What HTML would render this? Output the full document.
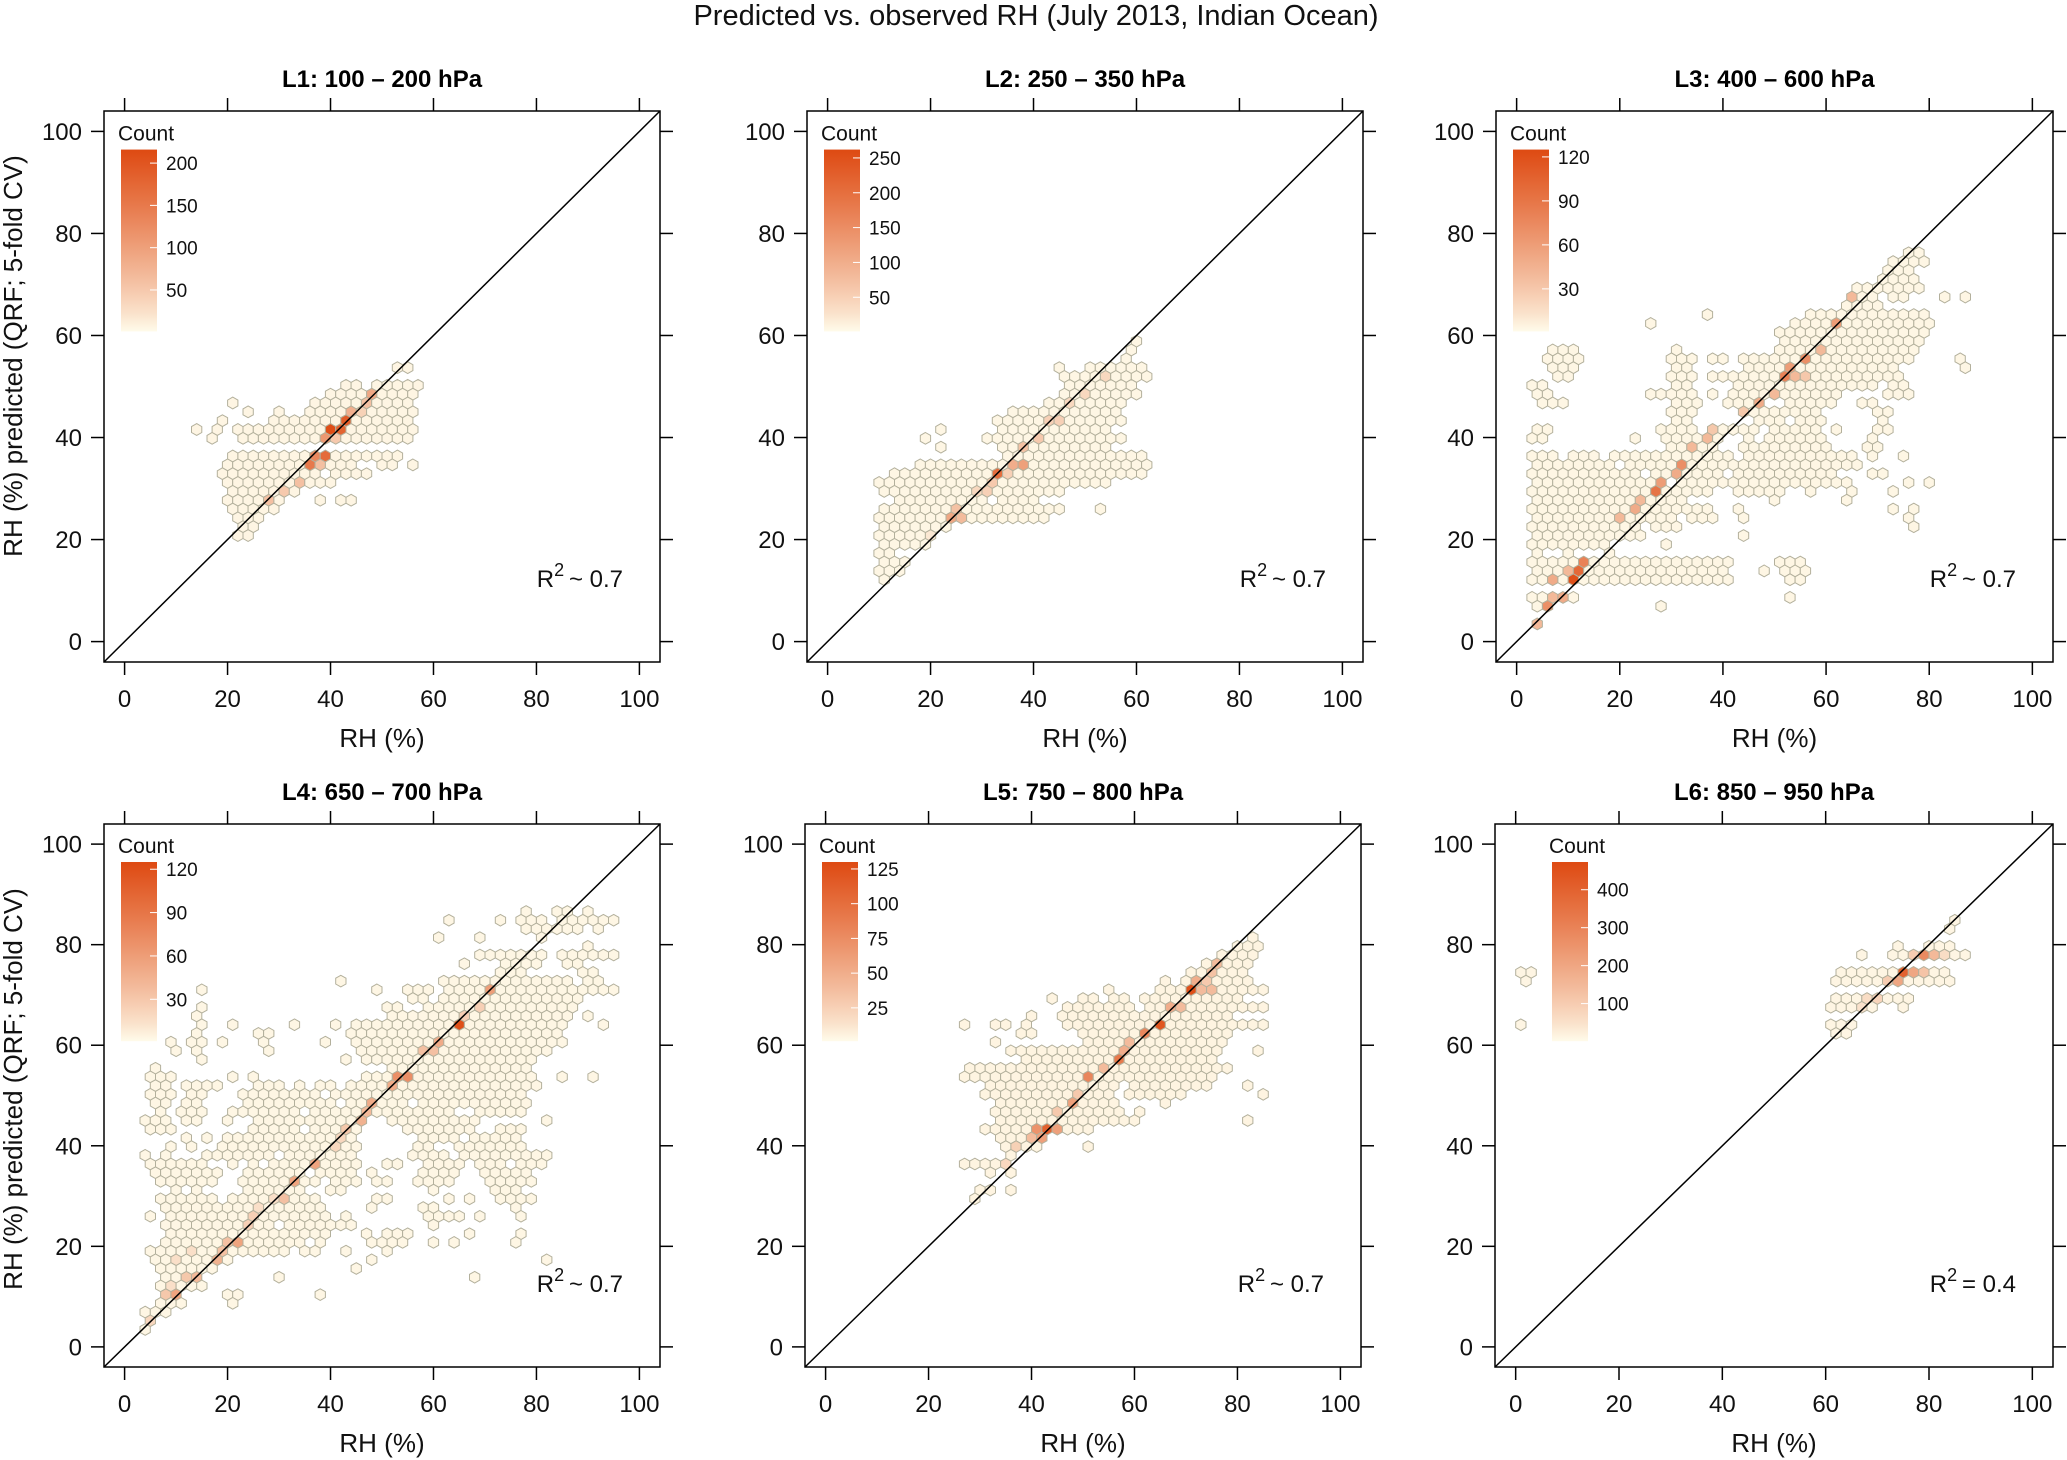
<!DOCTYPE html>
<html><head><meta charset="utf-8">
<style>
html,body{margin:0;padding:0;background:#fff;}
svg{display:block;font-family:"Liberation Sans",Arial,sans-serif;}
</style></head>
<body>
<svg id="chart" width="2067" height="1460" viewBox="0 0 2067 1460" xmlns="http://www.w3.org/2000/svg">
<text x="1036" y="25" font-size="29" text-anchor="middle" fill="#111">Predicted vs. observed RH (July 2013, Indian Ocean)</text>
</svg>
<script>
// ---- data ----
const panelTitles = ["L1: 100 \u2013 200 hPa","L2: 250 \u2013 350 hPa","L3: 400 \u2013 600 hPa","L4: 650 \u2013 700 hPa","L5: 750 \u2013 800 hPa","L6: 850 \u2013 950 hPa"];
const r2Labels = ["~ 0.7","~ 0.7","~ 0.7","~ 0.7","~ 0.7","= 0.4"];
const axisTicks = [0,20,40,60,80,100];
const legendMax = [216,262,125,125,130,473];
const legendTicks = [[50,100,150,200],[50,100,150,200,250],[30,60,90,120],[30,60,90,120],[25,50,75,100,125],[100,200,300,400]];
const baseCounts = [5,5,3,3,4,10];

const L1_rows = [[53,53,55],[51,49,53,57,58],[49.5,42,45,48,50,53,55],[48,40,56],[46,20,21,37,56],[44.5,24,24,30,30,36,56],[42.7,19,19,28,56],[40.9,14,14,18,18,22,56],[39,17,17,23,56],[37.2,18,18,21,54],[35.5,20,44,50,52,55,57],[33.7,18,38,40,48],[32,20,36,38,40],[30.2,20,33,38,38,42,42],[28.5,20,31,33,33,37,39,42,44],[26.7,20,30,34,34,40,40],[25,22,26],[23,22,26],[21.5,21,25],[19.7,20,20]];
const L1_hot = [[40,41,210],[42,41,180],[43,42.7,190],[39,39,110],[38,37.2,170],[36,37.2,130],[35,35.5,150],[44,44.5,80],[46,46,80],[48,48,90],[47,46,60],[33,32,60],[30,30.2,50],[28,28.5,60],[37,35.5,60],[45,44.5,40],[41,39,50]];

const L2_rows = [[59,60.7,60.7],[57.5,58,60],[55.6,57,59],[54,45,45,50,61],[52.3,46,48,51,51,49,62],[50.6,47,47,48,60],[49,45,47,41,41,47,60],[47.2,47,47,43,45,47,58],[45.6,36,57],[43.9,33,58],[42,22,22,33,55],[40.4,19,19,31,58],[38.6,22,22,33,54],[37,24,24,34,61],[35.3,17,62],[33.7,12,62],[32,10,55],[30.2,11,14,15,33,35,45],[28.5,13,31,33,40,53,53],[26.8,10,46,53,53],[25.1,11,43,57,57,63,63],[23.4,10,29,33,33,40,42],[21.7,10,24],[20,10,20],[18.3,11,20],[16.6,10,12],[15,11,15],[13.2,10,14],[11.4,11,11]];
const L2_hot = [[24.7,25.1,250],[33.8,33.7,200],[32.8,32,240],[37.7,35.3,120],[35.8,35.3,100],[23.8,23.4,110],[26.7,25.1,80],[25.7,26.8,70],[38.6,38.6,70],[40.4,40.4,60],[43,43.9,50],[45,43.9,50],[47,47.2,40],[49,49,40],[53,52.3,40],[30.9,30.2,50],[29.6,30.2,40],[19,20,20],[31,32,60],[35,33.7,50]];

const L3_rows = [[75.4,75,77.5],[73.7,72.3,78.5],[72,71,77],[70.2,70,78],[68.5,65.5,78],[66.8,65.5,69.5,73,75,83,83,87,87],[65.1,64.5,70],[63.3,37,37,56,80],[61.6,26,26,54,80],[59.9,51,80],[58.1,52,78,9,9],[56.5,10.7,10.7,31,31,50,78,7,12],[54.7,6.5,12,29.5,34,37,40,43.6,76,86,86],[53,6,12,31,34,44,74,87.4,87.4],[51.2,8,10,30,34,37,42,44,74],[49.5,3.8,6,30,34,42,70,72,76],[47.8,3.8,6,26,28,30,35,38,38,42,62,65,65,69,69,72,76,81,81],[46,5,10,30,36,40,48,52,62,66,70],[44.3,30,34,43,58,70,72,75,75],[42.6,30,34,47,51,55,59,70,72],[40.8,3.8,6,28,34,35,35,39,47,49,58,62,62,70,72],[39.2,3.8,6,23,23,29,40,44,46,48,60,68,70],[37.4,5,5,9,9,17,17,29,38,44,60,68,70],[35.6,3.8,8,10,15,18,42,44,66,69,69,75,75],[33.9,3,14,15,18,21,66,69,69,79,79],[32.2,3,24,26,40,42,62,69,72,80,80],[30.4,3,29,31,42,44,64,71,71,76,76,80,80],[28.7,3,38,42,45,46,51,57,57,65,65,73,73],[27,3,33,45,45,50,50,64,65],[25.3,3,38,42,44,50,50,73,73,76,77],[23.5,3,30,33,38,44,44,71,71,76,76],[21.7,3,24,27,31,44,44,76,77],[20.1,3,8,10,24,44,44,67,67],[18.3,3,18,22,22,29,29,48,48],[16.5,3,5,10,10,18,18,21,21],[14.8,3,19,21,41,48,48,51,55],[13,3,41,47,49,51,56],[11.3,3,41,53,55],[9.5,3,12,53,53],[7.7,3,7,28,28],[6.1,4,6],[4.3,4,4]];
const L3_hot = [[4.3,4.3,40],[5.3,7.7,70],[10.8,11.3,120],[12,13,100],[13,14.8,80],[7,11.3,50],[8,9.5,50],[9,13,40],[6,9.5,40],[20,23.5,40],[22,25.3,50],[26,28.7,90],[28,30.4,60],[30,32.2,50],[32.6,33.9,70],[34,37.4,40],[36,39.2,40],[38,40.8,30],[44,44.3,30],[47,46,50],[49,47.8,40],[52,51.2,80],[53,53,60],[56.5,54.7,70],[58,56.5,40],[61,61.6,60],[65,66.8,40],[54,52,40],[24,27,40],[56,52,30]];

const L4_rows = [[87.4,77.5,77.5,83.5,85.5,89.5,89.5,93,93],[85.6,63,63,73,73,77.5,82,84.5,87,88.5,94.6],[83.8,78,88,91.5,91.5],[82,60.5,60.5,68,70,81.6,81.6],[80.4,89.5,89.5,93,93],[78.6,68,82,84,95],[76.9,65.6,65.6,73.5,80,85.7,88.5,93,93],[75.1,72,78,89.5,92],[73.4,42.8,42.8,61.6,86.3,89,91.5],[71.6,15.3,15.3,49,49,55,59,63,87.6,89.5,94.6],[69.9,56,59,61,77.8,80.8,88.5],[68.2,15.3,15.3,50.5,53.7,59,87.5],[66.5,14.3,14.3,51,85.7,89.5,89.5],[64.6,14.9,14.9,20.6,20.6,32.6,32.6,40.8,40.8,44.9,85,92.8,92.8],[63,13.9,13.9,25.8,27.8,44.9,83.8],[61.2,9.8,9.8,13.9,15.9,19,19,27,27,38.6,38.6,44.9,83,85.7,85.7],[59.5,9.8,9.8,14.9,14.9,28.8,28.8,45.5,82.3],[57.7,14.9,14.9,42.8,42.8,47.6,80],[56.1,6,6,51.7,79],[54.3,4,8.7,20.7,20.7,24.7,24.7,47,80,84.7,84.7,90.8,90.8],[52.6,5,7.1,12.8,18,25.8,29.9,34,34,37.7,39.7,43.8,79.6],[50.8,4,8.1,13.5,15.9,23.7,37.3,41.4,77.2],[49.2,6,8.1,11.5,13.5,23.4,33.3,35.3,40.8,43.5,54.4,58.5,77.5],[47.4,7.1,7.1,10.1,15.6,21,33.6,36.3,43.5,45.2,62.5,68.7,76.8],[45.6,4,8.1,11.8,13.5,20,20,25.4,46.2,51.7,67.3,81.6,81.6],[43.9,5,9.1,25.8,34,36,44.2,55.7,58.5,61,68,72.1,76.5],[42.2,11.8,11.8,15.6,15.6,19.6,33.6,34.3,42.1,44.8,44.8,58.5,63.2,67.3,76.2],[40.4,8.1,8.1,12.5,12.5,18.3,29.2,31.2,44.2,56.4,58.5,65,76.2],[38.6,4,4,7.7,7.7,15.6,27.1,31.2,44.2,55.7,62.5,65,81.6],[36.8,5,15.6,21,21,25.1,25.1,28.5,45.5,51,51,52.7,52.7,58.5,62.5,65.3,65.3,68.7,72.1,76.2,81.6],[35.1,6,17.6,23,35,37.3,44.2,47.6,48.9,57.1,63.2,70.6,78.2],[33.3,7.1,17.6,22.4,38,40.8,44.8,48.9,48.9,51,51,56.4,63.2,70,78.9],[31.7,9.1,10.8,14.2,14.2,24.4,34,39.4,42.1,59.8,59.8,72.4,76.8],[29.9,6,17.6,20,38,48.2,51.7,62.5,62.5,66.6,66.6,72.1,78.2],[28.1,8.1,19.6,21.7,38,47.6,47.6,57.8,59.8,76.5,76.5],[26.4,5,5,8.1,29.9,31.2,38.7,42.8,42.8,59.8,65.3,68.7,68.7,76.8,76.8],[24.7,7.1,28.5,31.6,38,40.8,44.2,59.8,59.8],[22.9,8.1,38.7,47,47,51,55,66.6,66.6,76.5,76.5],[21.1,7.1,29.2,31.2,33.3,38.7,38.7,48.9,53.7,59.8,59.8,63.6,63.6,75.5,75.5],[19.4,5,31.2,35,36.7,42.8,42.8,51,51],[17.7,6,19.6,47.6,47.6,81.6,81.6],[15.9,7.1,16.9,44.8,44.8],[14.2,7.1,14.9,29.9,29.9,67.7,67.7],[12.4,6,14.9],[10.7,7.7,10.8,20,21.7,38,38],[9,6,10.8,20.7,20.7],[7.3,4,7.1],[5.5,4.5,4.5],[3.8,3.8,3.8]];
const L4_hot = [[64.6,64.6,120],[70.6,71.6,60],[52.9,54.3,70],[54.7,54.3,70],[51.7,52.6,50],[60.8,61.2,50],[57.8,59.5,35],[59.7,59.5,35],[47.7,49.2,50],[46.9,47.4,40],[45.7,45.6,45],[42.8,43.9,30],[36.7,36.8,55],[32.6,33.3,55],[30.5,29.9,35],[21.7,21.1,55],[19.6,21.1,35],[17.6,17.7,45],[18.8,19.4,35],[9.8,10.7,55],[7.7,10.7,30],[13.9,14.2,40],[11.8,14.2,30],[66.6,66.5,25],[68.7,68.2,25],[65.3,66.5,25],[24.7,26.4,25],[23.7,24.7,25],[40.8,40.4,20],[41.8,42.2,20],[4,5.5,20],[8,12.4,15],[10,17.7,15],[12,19.4,15],[26,28.1,15],[28,29.9,15]];

const L5_rows = [[81.1,82.5,82.5],[79.3,79.7,83.7],[77.6,76.5,82.6],[76,73.5,81.7],[74.2,70.7,80.7],[72.4,65.5,65.5,69.4,82],[70.7,54.8,54.8,64.2,84.6],[69,43.5,43.5,49.6,51.6,55.5,57.7,62.5,79.4],[67.2,46,59.5,62,84.9],[65.5,39.6,39.6,46,78.5],[63.8,27.9,27.9,33,35.5,39.6,39.6,46,84.6],[62,29,29,37,41,49,78],[60.3,33.3,33.3,50,77],[58.6,29,29,36,76,84.6,84.6],[56.8,38.5,75,80,80],[55.1,27.9,33.8,35.8,77,78,78],[53.3,27.9,74.6],[51.6,31.9,57,59,74.6,82,82],[49.9,31.9,56,59,68.8,84.6,84.6],[48.2,33.8,57,66.8,66.8],[46.5,33,58,61,61,70,70],[44.7,33,59.5,63,63,82,82],[43.1,31.9,52,64,64,70,70,80,80],[41.3,33,42],[39.6,35.8,42,50.3,52],[37.8,35.8,37],[36.1,27.9,35.8,64,64],[34.4,31.5,31.5,35.8,35.8],[30.9,29.5,31.9,35.8,35.8],[29.2,28.5,28.5]];
const L5_hot = [[70.6,70.7,125],[64.5,63.8,120],[61.7,62,80],[56.5,56.8,90],[51.6,53.3,80],[47.4,48.2,60],[42.5,43.1,110],[40.5,43.1,70],[44.5,43.1,60],[41.5,41.3,60],[39,41.3,40],[66.5,67.2,50],[68.5,67.2,40],[71,72.4,50],[73,72.4,30],[74.5,74.2,35],[76,76,40],[72.5,70.7,40],[74.5,70.7,40],[53.5,55.1,40],[58,58.6,50],[59,60.3,40],[37,39.6,25],[35.8,36.1,20],[49,50,30],[45,46.5,30]];

const L6_rows = [[84.1,84.3,84.3],[82.4,83.3,83.3],[80.5,74.3,74.3,80,84.3],[78.8,75.3,86.5],[77.1,66.4,68,72,84.3],[75.3,1.4,3.5,63.2,82.6],[73.6,62,84.3],[71.9,1.4,1.4,63.4,81.4],[70.1,62,75.4],[68.4,62,69,75.2,75.2],[66.7,61.5,68],[64.9,1.4,1.4,61.5,65.5],[63.2,62.5,64],[61.5,61.5,61.5]];
const L6_hot = [[78.4,77.1,280],[75.2,75.3,400],[77,75.3,200],[74.3,73.6,470],[71.3,71.9,200],[73.2,71.9,200],[80,78.8,150],[76,77.1,100],[79,75.3,120],[72,73.6,100],[70,70.1,80],[68,70.1,60],[66,68.4,50],[82,78.8,60]];

const allRows = [L1_rows,L2_rows,L3_rows,L4_rows,L5_rows,L6_rows];
const allHot = [L1_hot,L2_hot,L3_hot,L4_hot,L5_hot,L6_hot];

// ---- layout ----
const boxes = [
  {l:104,t:111,w:556,h:551},{l:807,t:111,w:556,h:551},{l:1496,t:111,w:557,h:551},
  {l:104,t:824,w:556,h:543},{l:805,t:824,w:556,h:543},{l:1495,t:824,w:558,h:543}];
const legendOffsets = [17,17,17,17,17,57];
const NS = "http://www.w3.org/2000/svg";
const svg = document.getElementById('chart');
function mk(tag, attrs, parent){
  const e = document.createElementNS(NS, tag);
  for (const k in attrs) e.setAttribute(k, attrs[k]);
  (parent||svg).appendChild(e);
  return e;
}
const c0=[255,251,234], c1=[222,74,18];
function colorFor(v, max){
  let t = Math.max(0, Math.min(1, (v-1)/(max-1)));
  t = Math.pow(t, 0.85);
  const c = c0.map((a,i)=>Math.round(a+(c1[i]-a)*t));
  return `rgb(${c[0]},${c[1]},${c[2]})`;
}
const ROW = Math.sqrt(3);

boxes.forEach((b, p) => {
  const g = mk('g', {});
  
  
  const sx = v => b.l + (v+4)/108*b.w;
  const sy = v => b.t + b.h - (v+4)/108*b.h;

  const title = mk('text', {x: b.l + b.w/2, y: b.t - 24, 'font-size': 24, 'font-weight': 'bold', 'text-anchor': 'middle', fill: '#000'}, g);
  
  
  title.textContent = panelTitles[p];

  const cells = new Map();
  allRows[p].forEach(row => {
    const r = Math.round(row[0]/ROW);
    const off = (r % 2) ? 1 : 0;
    for (let i = 1; i + 1 < row.length; i += 2) {
      const a = row[i], z = row[i+1];
      const k0 = Math.ceil((a - 0.95 - off)/2), k1 = Math.floor((z + 0.95 - off)/2);
      for (let k = k0; k <= k1; k++) cells.set(r + ',' + k, baseCounts[p]);
    }
  });
  allHot[p].forEach(h => {
    const r = Math.round(h[1]/ROW);
    const off = (r % 2) ? 1 : 0;
    const k = Math.round((h[0]-off)/2);
    cells.set(r + ',' + k, h[2]);
  });
  const hw = b.w/108;
  const ryy = (ROW*b.h/108)*2/3;
  cells.forEach((cnt, key) => {
    const [r, k] = key.split(',').map(Number);
    const off = (r % 2) ? 1 : 0;
    const cx = sx(off + 2*k), cy = sy(r*ROW);
    const pts = [[0,-ryy],[hw,-ryy/2],[hw,ryy/2],[0,ryy],[-hw,ryy/2],[-hw,-ryy/2]].map(q => (cx+q[0]).toFixed(1)+','+(cy+q[1]).toFixed(1)).join(' ');
    const hx = mk('polygon', {points: pts, fill: colorFor(cnt, legendMax[p]), stroke: '#b3b09c', 'stroke-width': 1}, g);
    
    
  });

  const dg = mk('line', {x1: b.l, y1: b.t+b.h, x2: b.l+b.w, y2: b.t, stroke: '#000', 'stroke-width': 1.5}, g);
  
  

  const bx = mk('rect', {x: b.l, y: b.t, width: b.w, height: b.h, fill: 'none', stroke: '#000', 'stroke-width': 1.5}, g);
  
  

  axisTicks.forEach(v => {
    const X = sx(v), Y = sy(v);
    mk('line', {x1: X, y1: b.t, x2: X, y2: b.t-13, stroke: '#000', 'stroke-width': 1.5}, g);
    mk('line', {x1: X, y1: b.t+b.h, x2: X, y2: b.t+b.h+13, stroke: '#000', 'stroke-width': 1.5}, g);
    mk('line', {x1: b.l, y1: Y, x2: b.l-13, y2: Y, stroke: '#000', 'stroke-width': 1.5}, g);
    mk('line', {x1: b.l+b.w, y1: Y, x2: b.l+b.w+13, y2: Y, stroke: '#000', 'stroke-width': 1.5}, g);
    const xl = mk('text', {x: X, y: b.t+b.h+45, 'font-size': 24, 'text-anchor': 'middle', fill: '#111'}, g);
    
    
    xl.textContent = v;
    const yl = mk('text', {x: b.l-22, y: Y+8.5, 'font-size': 24, 'text-anchor': 'end', fill: '#111'}, g);
    
    
    yl.textContent = v;
  });

  const xt = mk('text', {x: b.l+b.w/2, y: b.t+b.h+85, 'font-size': 26, 'text-anchor': 'middle', fill: '#111'}, g);
  
  
  xt.textContent = 'RH (%)';

  if (p % 3 === 0) {
    const cy = p < 3 ? 356 : 1089;
    const yt = mk('text', {x: 0, y: 0, 'font-size': 26, 'text-anchor': 'middle', fill: '#111', transform: `translate(22,${cy}) rotate(-90)`}, g);
    
    
    yt.textContent = 'RH (%) predicted (QRF; 5-fold CV)';
  }

  const rt = mk('text', {x: b.l+b.w-37, y: b.t+b.h-84+9, 'font-size': 24, 'text-anchor': 'end', fill: '#111'}, g);
  
  
  const t1 = mk('tspan', {}, rt); t1.textContent = 'R';
  const t2 = mk('tspan', {dy: -11, 'font-size': 18}, rt); t2.textContent = '2';
  const t3 = mk('tspan', {dy: 11}, rt); t3.textContent = '\u2009' + r2Labels[p];

  const lx = b.l + legendOffsets[p], lw = 36;
  const lt = b.t + 0.07*b.h, lb = b.t + 0.40*b.h;
  const gradId = 'grad' + p;
  const defs = mk('defs', {}, g);
  const lg = mk('linearGradient', {id: gradId, x1: 0, y1: 1, x2: 0, y2: 0}, defs);
  for (let i = 0; i <= 10; i++) {
    const v = 1 + (legendMax[p]-1)*i/10;
    mk('stop', {offset: i/10, 'stop-color': colorFor(v, legendMax[p])}, lg);
  }
  const cl = mk('text', {x: lx-3, y: lt-9, 'font-size': 21, fill: '#111'}, g);
  
  
  cl.textContent = 'Count';
  const bar = mk('rect', {x: lx, y: lt, width: lw, height: lb-lt, fill: `url(#${gradId})`}, g);
  
  
  legendTicks[p].forEach(v => {
    const Y = lb - (v-1)/(legendMax[p]-1)*(lb-lt);
    mk('line', {x1: lx+lw-7, y1: Y, x2: lx+lw, y2: Y, stroke: '#fff', 'stroke-width': 1}, g);
    const tl = mk('text', {x: lx+lw+9, y: Y+7, 'font-size': 19, fill: '#111'}, g);
    
    
    tl.textContent = v;
  });
});
</script>
</body></html>
